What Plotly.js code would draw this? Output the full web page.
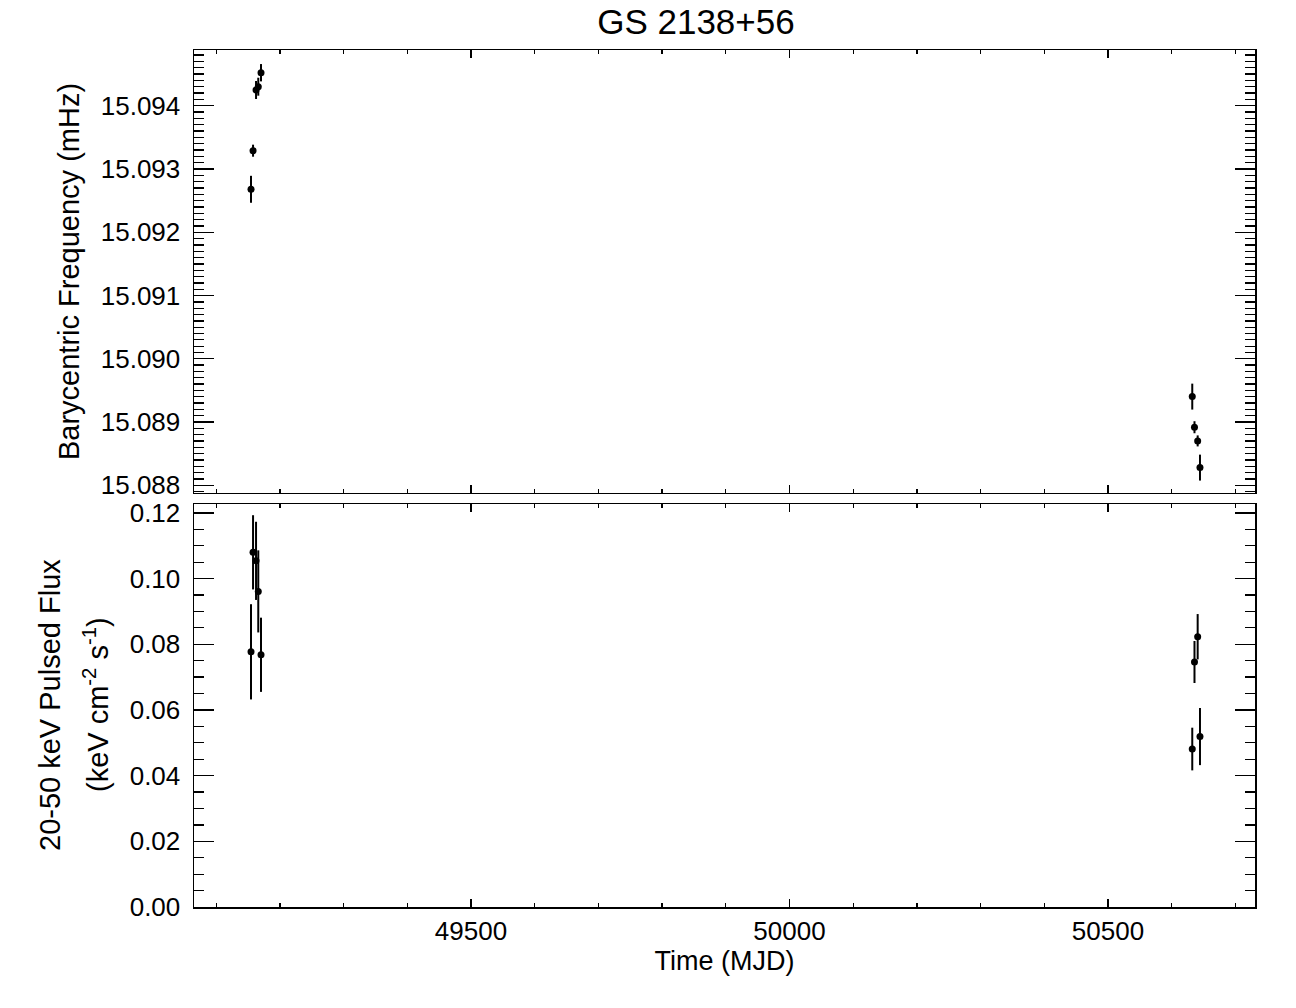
<!DOCTYPE html>
<html>
<head>
<meta charset="utf-8">
<script src="https://cdn.plot.ly/plotly-3.0.1.min.js"></script>
<style>html,body{margin:0;padding:0;background:#fff;}</style>
</head>
<body>
<div id="chart" style="width:1296px;height:1008px;"></div>
<script>
// Observation times (MJD)
const mjd = [49154.6, 49157.8, 49162.5, 49166.0, 49170.3, 50632.3, 50635.8, 50640.8, 50644.4];
// Barycentric frequency (mHz) and 1-sigma errors
const freq    = [15.092679, 15.093289, 15.094248, 15.094300, 15.094521, 15.089403, 15.088919, 15.088703, 15.088281];
const freqErr = [0.000213, 0.000095, 0.000142, 0.000142, 0.000137, 0.000205, 0.000095, 0.000087, 0.000205];
// 20-50 keV pulsed flux (keV cm^-2 s^-1) and 1-sigma errors
const flux    = [0.0777, 0.1080, 0.1054, 0.0961, 0.0768, 0.0481, 0.0746, 0.0823, 0.0519];
const fluxErr = [0.0145, 0.0113, 0.0119, 0.0125, 0.0113, 0.0065, 0.0064, 0.0069, 0.0087];

const FONT = 'Liberation Sans, Arial, Helvetica, sans-serif';

const marker = {color: 'black', size: 7, symbol: 'circle'};
const traces = [
  {x: mjd, y: freq, xaxis: 'x2', yaxis: 'y2', mode: 'markers', type: 'scatter', marker: marker,
   error_y: {type: 'data', array: freqErr, visible: true, width: 0, thickness: 2, color: 'black'}},
  {x: mjd, y: flux, xaxis: 'x', yaxis: 'y', mode: 'markers', type: 'scatter', marker: marker,
   error_y: {type: 'data', array: fluxErr, visible: true, width: 0, thickness: 2, color: 'black'}}
];

const xRange = [49065.1, 50730.8];
const axCommon = {
  showline: true, linecolor: 'black', linewidth: 1.5, mirror: 'ticks',
  ticks: 'inside', tickcolor: 'black', tickwidth: 1.3,
  showgrid: false, zeroline: false,
  tickfont: {family: FONT, size: 26, color: 'black'}
};

const layout = {
  width: 1296, height: 1008,
  margin: {l: 194, r: 41, t: 50, b: 101},
  paper_bgcolor: 'white', plot_bgcolor: 'white',
  showlegend: false,
  font: {family: FONT, color: 'black'},
  title: {text: 'GS 2138+56', font: {family: FONT, size: 35, color: 'black'},
          xref: 'container', yref: 'container', x: 0.537, xanchor: 'center', y: 0.978, yanchor: 'middle'},
  xaxis: Object.assign({}, axCommon, {
    domain: [0, 1], anchor: 'y', range: xRange, tick0: 0, dtick: 500, ticklen: 8,
    minor: {dtick: 100, ticks: 'inside', ticklen: 4, tickcolor: 'black', tickwidth: 1.3},
    tickformat: 'd',
    title: {text: 'Time (MJD)', font: {family: FONT, size: 27, color: 'black'}, standoff: 5}
  }),
  xaxis2: Object.assign({}, axCommon, {
    domain: [0, 1], anchor: 'y2', matches: 'x', range: xRange, tick0: 0, dtick: 500, ticklen: 8,
    minor: {dtick: 100, ticks: 'inside', ticklen: 4, tickcolor: 'black', tickwidth: 1.3},
    showticklabels: false
  }),
  yaxis: Object.assign({}, axCommon, {
    domain: [0, 0.4702], anchor: 'x', range: [0, 0.1227], tick0: 0, dtick: 0.02, tickformat: '.2f',
    ticklen: 20, ticklabelstandoff: 7,
    minor: {dtick: 0.005, ticks: 'inside', ticklen: 10, tickcolor: 'black', tickwidth: 1.3}
  }),
  yaxis2: Object.assign({}, axCommon, {
    domain: [0.4831, 1], anchor: 'x2', range: [15.08788, 15.09488], tick0: 15.088, dtick: 0.001, tickformat: '.3f',
    ticklen: 20, ticklabelstandoff: 7,
    minor: {dtick: 0.0001, ticks: 'inside', ticklen: 10, tickcolor: 'black', tickwidth: 1.3},
    title: {text: 'Barycentric Frequency (mHz)', font: {family: FONT, size: 29, color: 'black'}, standoff: 12}
  }),
  annotations: [
    {text: '20-50 keV Pulsed Flux', xref: 'paper', yref: 'paper', x: (50 - 194) / 1061, y: (907 - 705) / 857,
     xanchor: 'center', yanchor: 'middle', textangle: -90, showarrow: false,
     font: {family: FONT, size: 29, color: 'black'}},
    {text: '(keV cm<sup>-2</sup> s<sup>-1</sup>)', xref: 'paper', yref: 'paper', x: (96 - 194) / 1061, y: (907 - 705) / 857,
     xanchor: 'center', yanchor: 'middle', textangle: -90, showarrow: false,
     font: {family: FONT, size: 29, color: 'black'}}
  ]
};

Plotly.newPlot('chart', traces, layout, {displayModeBar: false, staticPlot: true});
</script>
</body>
</html>
